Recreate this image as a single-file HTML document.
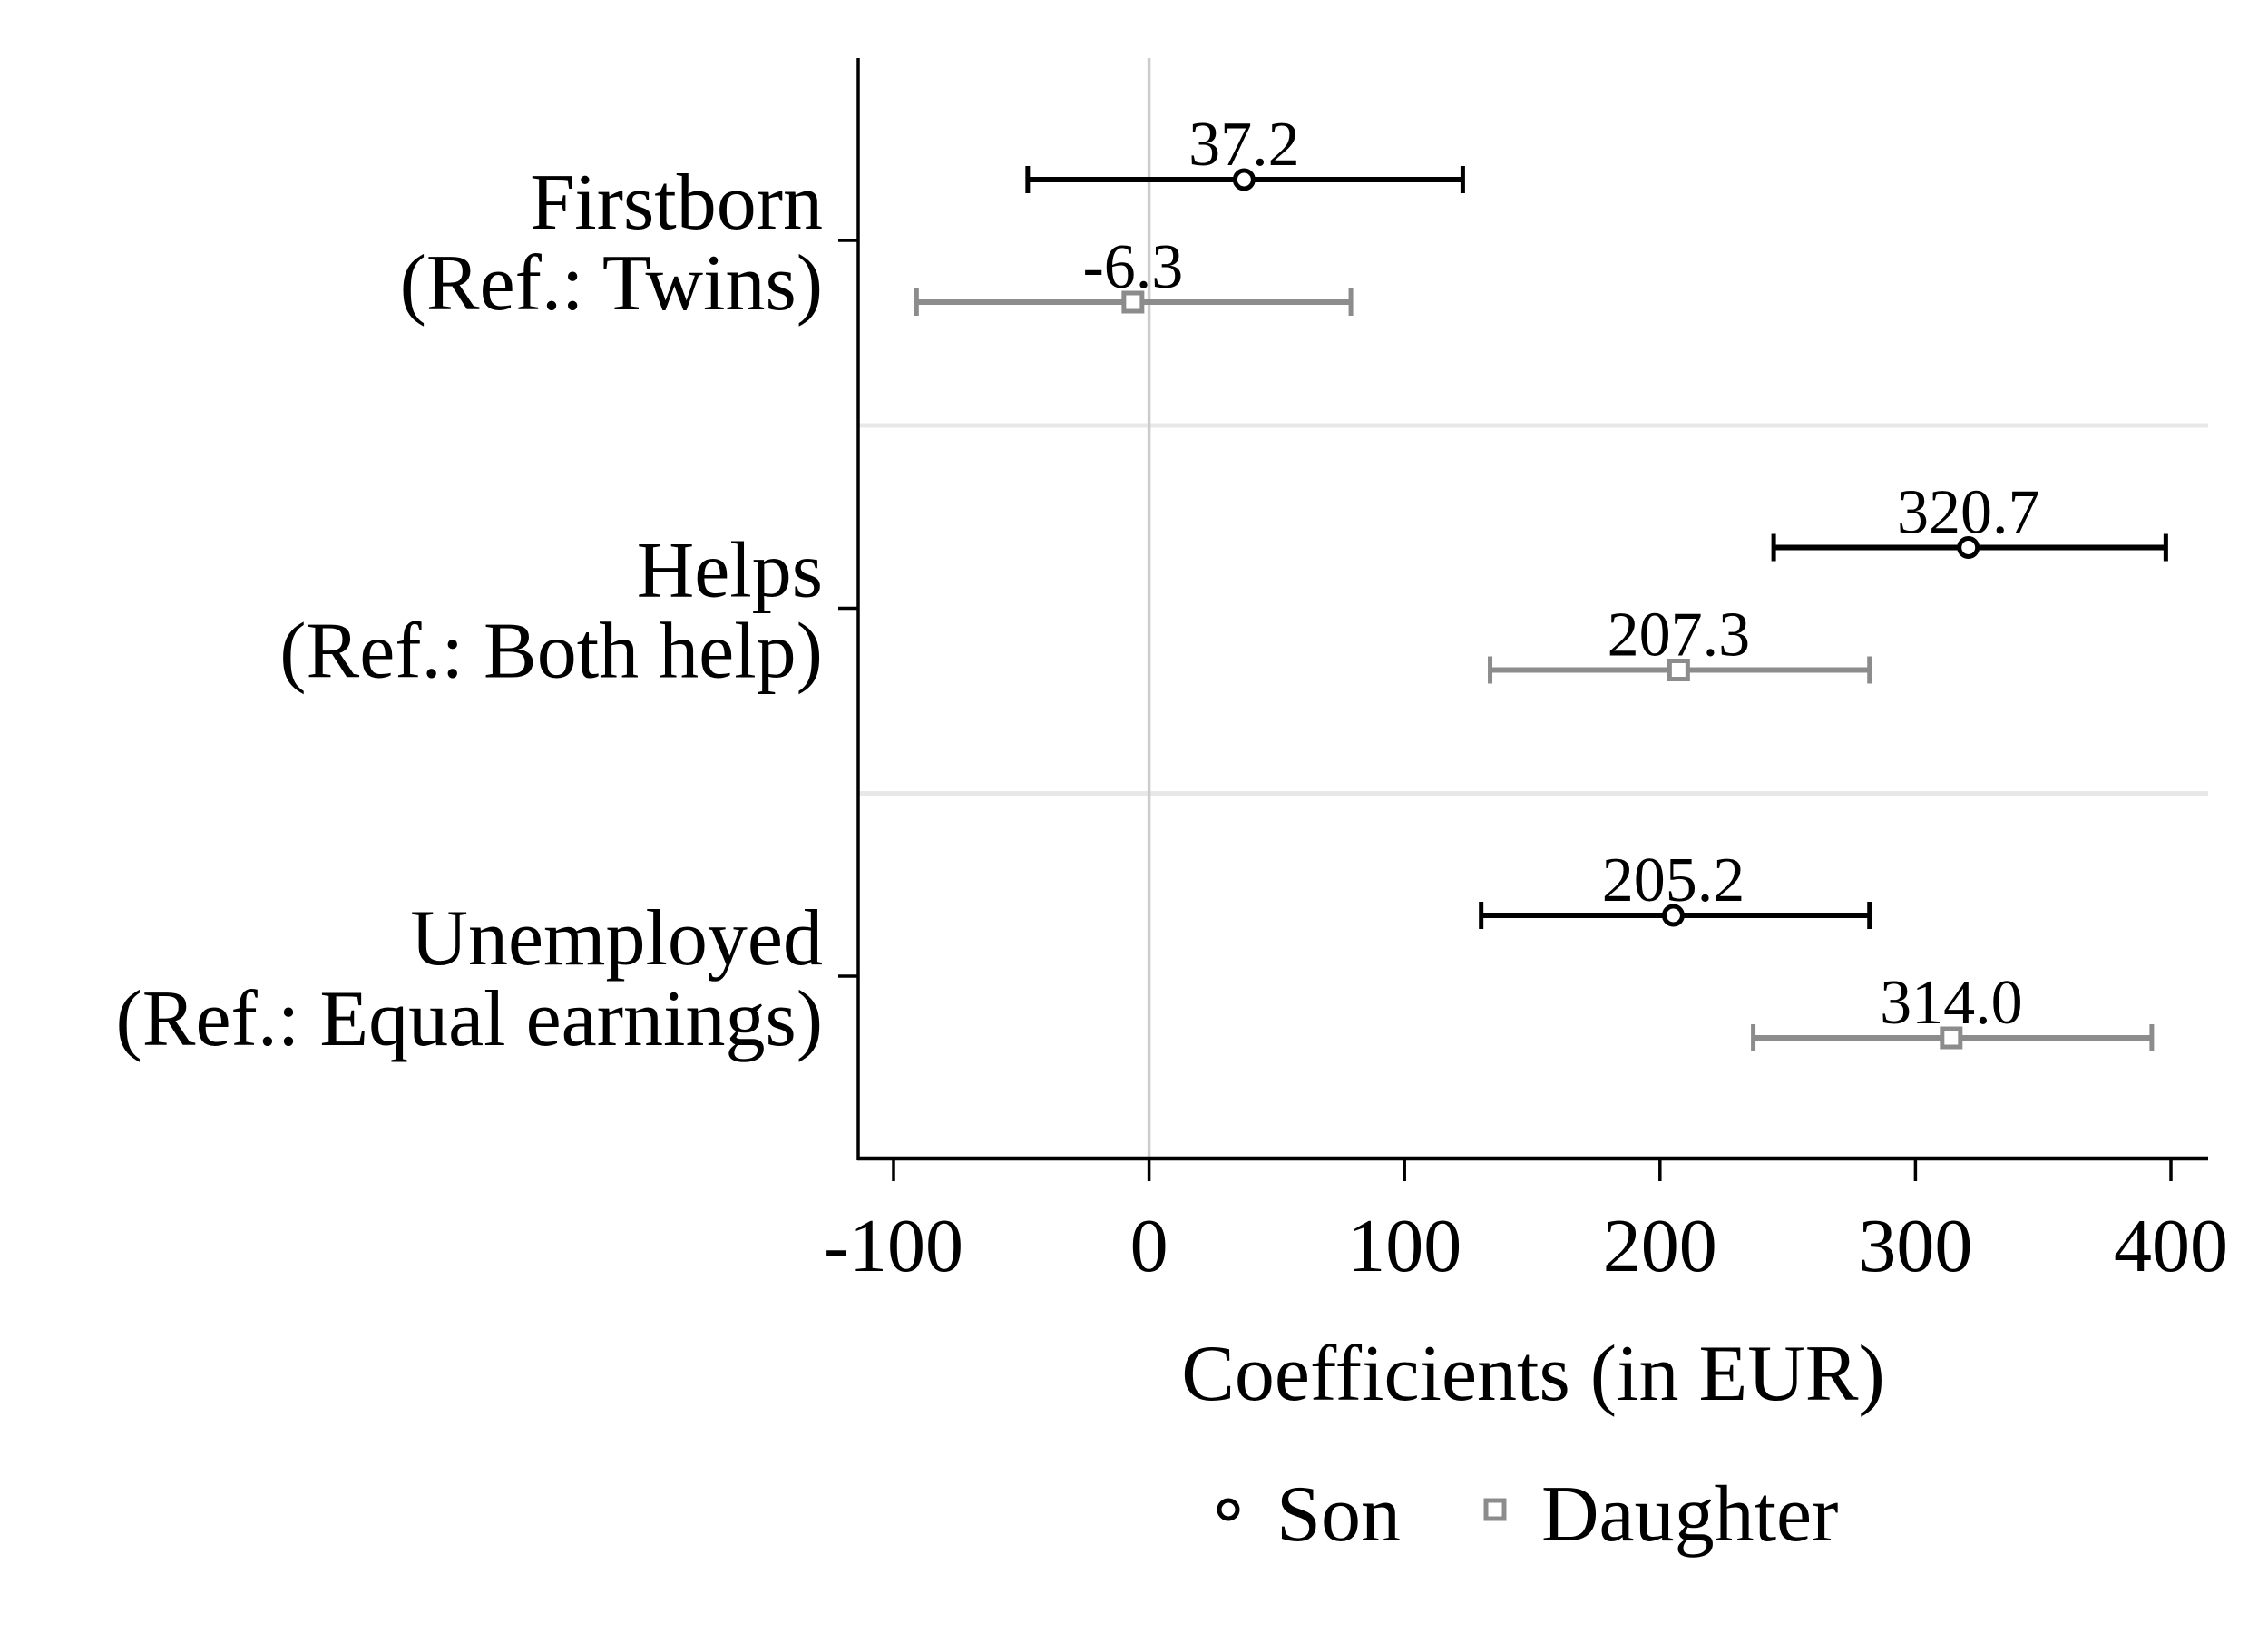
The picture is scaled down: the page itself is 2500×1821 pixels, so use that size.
<!DOCTYPE html>
<html><head><meta charset="utf-8"><style>
html,body{margin:0;padding:0;background:#fff}
svg{display:block;font-family:"Liberation Serif",serif}
</style></head><body>
<svg id="chart" width="2500" height="1821" viewBox="0 0 2500 1821" xmlns="http://www.w3.org/2000/svg">
<g id="g"></g>
</svg>
<script>
const categories = ["Firstborn|(Ref.: Twins)", "Helps|(Ref.: Both help)", "Unemployed|(Ref.: Equal earnings)"];
const sonValues = [37.2, 320.7, 205.2];
const sonLow = [-47.5, 244.5, 130];
const sonHigh = [122.8, 398, 282];
const daughterValues = [-6.3, 207.3, 314.0];
const daughterLow = [-91, 133.5, 236.5];
const daughterHigh = [79, 282, 392.5];
const xTicks = [-100, 0, 100, 200, 300, 400];

const NS = "http://www.w3.org/2000/svg";
const g = document.getElementById('g');
const x = v => 1266.6 + v * 2.816;
const rowY = i => 265 + i * 405.5;
function el(tag, attrs, parent){const e=document.createElementNS(NS,tag);for(const k in attrs)e.setAttribute(k,attrs[k]);(parent||g).appendChild(e);return e;}

for (let i=0;i<categories.length-1;i++){
  const s=el('line',{x1:947,x2:2434,y1:rowY(i)+204,y2:rowY(i)+204,stroke:'#e8e8e8','stroke-width':5});
  
  
}
const z=el('line',{x1:x(0),x2:x(0),y1:64,y2:1277,stroke:'#cccccc','stroke-width':3.5});


const ya=el('line',{x1:946,x2:946,y1:64,y2:1279,stroke:'#000','stroke-width':3.5});


const xa=el('line',{x1:945,x2:2434,y1:1277,y2:1277,stroke:'#000','stroke-width':4.5});



xTicks.forEach(t=>{
  const tk=el('line',{x1:x(t),x2:x(t),y1:1277,y2:1302,stroke:'#000','stroke-width':3.5});
  
  
  const tl=el('text',{x:x(t),y:1401,'font-size':84,'text-anchor':'middle'});
  tl.textContent=String(t);
  
  
});

categories.forEach((c,i)=>{
  const y=rowY(i);
  const tk=el('line',{x1:924,x2:946,y1:y,y2:y,stroke:'#000','stroke-width':3.5});
  
  
  const parts=c.split('|');
  const t=el('text',{x:907,y:y-13,'font-size':88,'text-anchor':'end'});
  t.textContent=parts[0];
  
  
  const t2=el('text',{x:907,y:y+76,'font-size':88,'text-anchor':'end'});
  t2.textContent=parts[1];
  
  
});

function series(vals,lo,hi,color,dy,shape,name){
  vals.forEach((v,i)=>{
    const y=rowY(i)+dy;
    const l=el('line',{x1:x(lo[i]),x2:x(hi[i]),y1:y,y2:y,stroke:color,'stroke-width':6});
    
    
    [lo[i],hi[i]].forEach(e=>{
      const cp=el('line',{x1:x(e),x2:x(e),y1:y-15,y2:y+15,stroke:color,'stroke-width':5});
      
      
    });
    let m;
    if(shape==='circle') m=el('circle',{cx:x(v),cy:y,r:10,fill:'#fff',stroke:color,'stroke-width':5});
    else m=el('rect',{x:x(v)-10,y:y-10,width:20,height:20,fill:'#fff',stroke:color,'stroke-width':5});
    
    
    const t=el('text',{x:x(v),y:y-16,'font-size':70,'text-anchor':'middle'});
    t.textContent=v.toFixed(1);
    
    
  });
}
series(sonValues,sonLow,sonHigh,'#000',-67,'circle','son');
series(daughterValues,daughterLow,daughterHigh,'#8c8c8c',68,'square','daughter');

const at=el('text',{x:1690,y:1543,'font-size':88,'text-anchor':'middle'});
at.textContent='Coefficients (in EUR)';



const lg=el('g',{});


const c1=el('circle',{cx:1354,cy:1664,r:10,fill:'#fff',stroke:'#000','stroke-width':5},lg);


const t1=el('text',{x:1407,y:1698,'font-size':88},lg);
t1.textContent='Son';


const r2=el('rect',{x:1638,y:1654,width:20,height:20,fill:'#fff',stroke:'#8c8c8c','stroke-width':5},lg);


const t2=el('text',{x:1699,y:1698,'font-size':88},lg);
t2.textContent='Daughter';


</script>
</body></html>
